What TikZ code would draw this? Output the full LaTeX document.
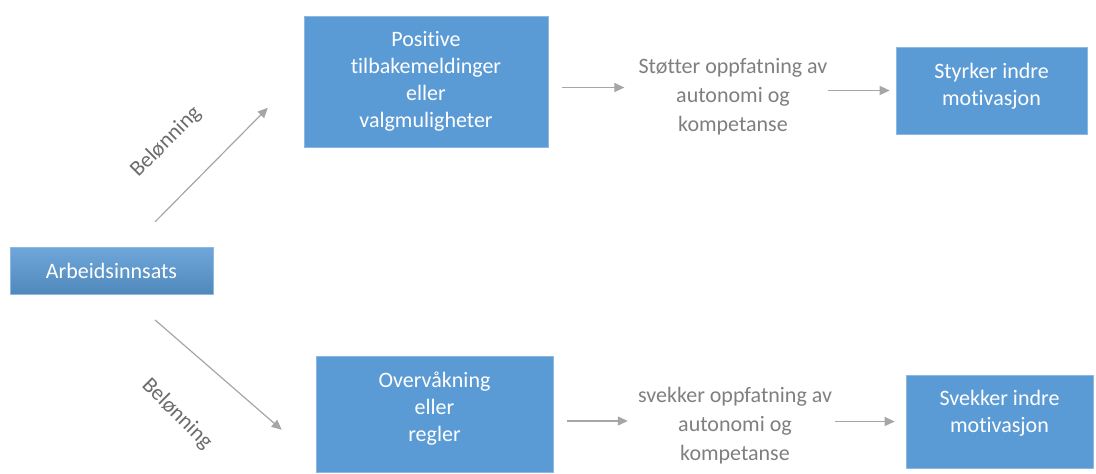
\documentclass[tikz,border=0pt]{standalone}
\usepackage{fontspec}
\setmainfont{Carlito}[RawFeature={-liga;-clig;-calt;-dlig}]
\usetikzlibrary{arrows.meta}
\definecolor{boxblue}{HTML}{5B9BD5}
\definecolor{boxedge}{HTML}{8DB8E2}
\definecolor{arrgray}{HTML}{A6A6A6}
\definecolor{txtgray}{HTML}{7F7F7F}
\begin{document}
\begin{tikzpicture}[x=1pt,y=-1pt,
		every node/.style={font=\fontsize{22}{27}\selectfont},
		box/.style={rectangle, fill=boxblue, draw=boxedge, line width=0.6pt, inner sep=0pt},
		boxtxt/.style={text=white, align=center, inner sep=0pt},
		mid/.style={text=txtgray, align=center, inner sep=0pt, font=\fontsize{22}{29}\selectfont},
		lbl/.style={text=txtgray!85!black, inner sep=0pt},
		arr/.style={draw=arrgray, line width=1.2pt, -{Triangle[length=10pt,width=9pt]}, arrgray}]
		\useasboundingbox (0,0) rectangle (1096,474);

		\node[box, top color=boxblue!88!white, bottom color=boxblue!88!black, minimum width=203pt, minimum height=47pt, text=white] (arb) at (111.5,270.5) {Arbeidsinnsats};

		\node[box, minimum width=244pt, minimum height=131pt] (pos) at (426,81.5) {};
		\node[boxtxt] (postxt) at (pos) {Positive\\tilbakemeldinger\\eller\\valgmuligheter};
		\node[mid] (sto) at (733,97) {Støtter oppfatning av\\autonomi og\\kompetanse};
		\node[box, minimum width=191pt, minimum height=87pt] (sty) at (991.5,90.5) {};
		\node[boxtxt] (stytxt) at ([yshift=4pt]sty) {Styrker indre\\motivasjon};

		\node[box, minimum width=237pt, minimum height=116pt] (ove) at (434.5,414) {};
		\node[boxtxt] (ovetxt) at ([yshift=5pt]ove) {Overvåkning\\eller\\regler};
		\node[mid] (svk) at (735,426) {svekker oppfatning av\\autonomi og\\kompetanse};
		\node[box, minimum width=187pt, minimum height=93pt] (sve) at (999.5,421.5) {};
		\node[boxtxt] (svetxt) at ([yshift=8pt]sve) {Svekker indre\\motivasjon};

		\draw[arr, shorten <=35pt, shorten >=51pt] ([xshift=19pt]arb.north) -- ([yshift=10pt]pos.west);
		\draw[arr, shorten <=39pt, shorten >=45pt] ([xshift=14pt]arb.south) -- ([yshift=13pt]ove.south west);
		\node[lbl, rotate=45] (bel1) at (166,142) {Belønning};
		\node[lbl, rotate=-45] (bel2) at (177,414) {Belønning};

		\draw[arr, shorten <=14pt, shorten >=14pt] ([yshift=-6pt]pos.east) -- ([yshift=-6pt]pos.east -| sto.west);
		\draw[arr, shorten >=6pt] (sto.east |- sty.west) -- (sty.west);
		\draw[arr, shorten <=14pt, shorten >=10pt] ([yshift=-7pt]ove.east) -- ([yshift=-7pt]ove.east -| svk.west);
		\draw[arr, shorten <=3pt, shorten >=11pt] (svk.east |- sve.west) -- (sve.west);
\end{tikzpicture}
\end{document}
